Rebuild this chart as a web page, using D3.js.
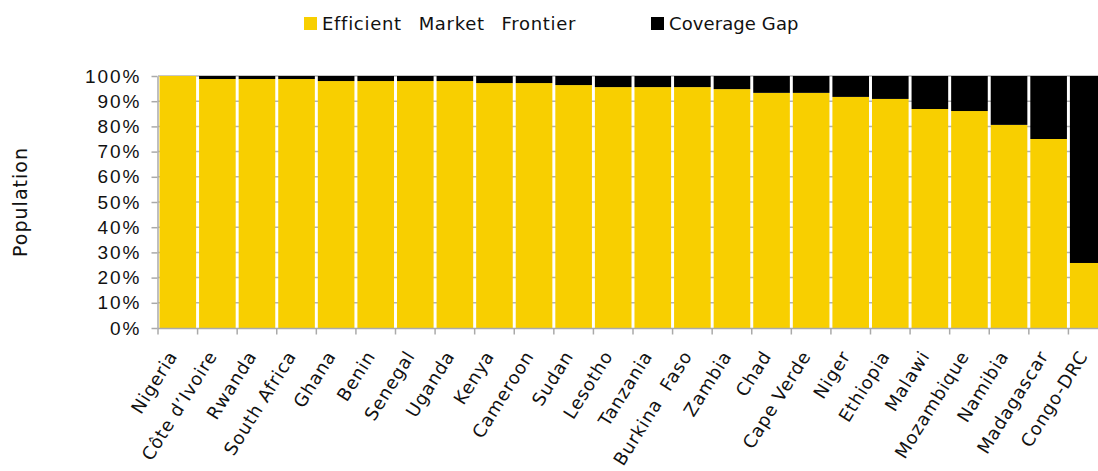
<!DOCTYPE html>
<html>
<head>
<meta charset="utf-8">
<script src="https://cdn.jsdelivr.net/npm/d3@7"></script>
<style>
  html, body { margin: 0; padding: 0; background: #fff; }
  svg { display: block; font-family: "DejaVu Sans", Verdana, sans-serif; }
</style>
</head>
<body>
<svg id="chart" width="1098" height="471"></svg>
<script>
// Countries, ordered by share of population reached by the efficient market frontier
const countries = ["Nigeria", "Côte d’Ivoire", "Rwanda", "South Africa", "Ghana", "Benin", "Senegal",
  "Uganda", "Kenya", "Cameroon", "Sudan", "Lesotho", "Tanzania", "Burkina  Faso", "Zambia", "Chad",
  "Cape Verde", "Niger", "Ethiopia", "Malawi", "Mozambique", "Namibia", "Madagascar", "Congo-DRC"];

// Share of population (%) within the efficient market frontier
const frontier = [100, 98.8, 98.8, 98.8, 98, 98, 98, 98, 97.2, 97.2, 96.4, 95.6, 95.6, 95.6, 94.8,
  93.3, 93.3, 91.7, 90.9, 86.9, 86.1, 80.6, 75, 25.8];

// Remaining share is the coverage gap
const gap = frontier.map(v => 100 - v);

const seriesNames = ["Efficient  Market  Frontier", "Coverage Gap"];
const seriesColors = ["#F8CF00", "#000000"];
const yTicks = [0, 10, 20, 30, 40, 50, 60, 70, 80, 90, 100];

const svg = d3.select("#chart");
const margin = { left: 158, top: 76, bottom: 143 };
const plotRight = 1108;
const plotBottom = 471 - margin.bottom;

const x = d3.scaleBand().domain(countries).range([margin.left, plotRight]).paddingInner(0.075).paddingOuter(0.0375);
const y = d3.scaleLinear().domain([0, 100]).range([plotBottom, margin.top]);

// Horizontal gridlines
svg.append("g")
  .selectAll("line")
  .data(yTicks.filter(t => t > 0))
  .join("line")
  .attr("x1", margin.left).attr("x2", plotRight)
  .attr("y1", d => y(d)).attr("y2", d => y(d))
  .attr("stroke", "#b4b4b4").attr("stroke-width", 1.5);

// Stacked bars
const rows = countries.map((c, i) => ({ country: c, frontier: frontier[i], gap: gap[i] }));
const stack = d3.stack().keys(["frontier", "gap"])(rows);

svg.append("g")
  .selectAll("g")
  .data(stack)
  .join("g")
  .attr("fill", (d, i) => seriesColors[i])
  .selectAll("rect")
  .data(d => d)
  .join("rect")
  .attr("x", d => x(d.data.country))
  .attr("width", x.bandwidth())
  .attr("y", d => y(d[1]))
  .attr("height", d => y(d[0]) - y(d[1]));

// Y axis
const yAxis = svg.append("g")
  .attr("transform", `translate(${margin.left - 0.5},0)`)
  .call(d3.axisLeft(y).tickValues(yTicks).tickFormat(d => d + "%").tickSize(6).tickSizeOuter(0));
yAxis.select(".domain").attr("stroke", "#aaaaaa").attr("stroke-width", 1.5);
yAxis.selectAll(".tick line").attr("stroke", "#aaaaaa").attr("stroke-width", 1.5);
yAxis.selectAll(".tick text")
  .attr("x", -16)
  .attr("fill", "#111")
  .style("font-size", "19px")
  .style("letter-spacing", "2px");

// X axis with band-boundary ticks
const xAxisG = svg.append("g").attr("transform", `translate(0,${plotBottom + 0.5})`);
xAxisG.append("line")
  .attr("x1", margin.left - 0.5).attr("x2", plotRight)
  .attr("stroke", "#aaaaaa").attr("stroke-width", 1.5);
const step = x.step();
xAxisG.selectAll("line.tick")
  .data(countries)
  .join("line")
  .attr("class", "tick")
  .attr("x1", d => x(d) - step * x.paddingInner() / 2)
  .attr("x2", d => x(d) - step * x.paddingInner() / 2)
  .attr("y1", 0).attr("y2", 6)
  .attr("stroke", "#aaaaaa").attr("stroke-width", 1.5);
xAxisG.selectAll("text")
  .data(countries)
  .join("text")
  .attr("transform", d => `translate(${x(d) + x.bandwidth() / 2 - 5},${24}) rotate(-58)`)
  .attr("text-anchor", "end")
  .attr("dy", "0.35em")
  .attr("fill", "#111")
  .style("font-size", "18px")
  .style("letter-spacing", "0.8px")
  .style("white-space", "pre")
  .text(d => d);

// Y axis title
svg.append("text")
  .attr("transform", `translate(27,${(margin.top + plotBottom) / 2}) rotate(-90)`)
  .attr("text-anchor", "middle")
  .attr("fill", "#111")
  .style("font-size", "19px")
  .style("letter-spacing", "1px")
  .text("Population");

// Legend
const legendItems = [
  { name: seriesNames[0], color: seriesColors[0], x: 304, ls: 0.7, ws: 2 },
  { name: seriesNames[1], color: seriesColors[1], x: 651, ls: 0.1, ws: 0 }
];
const lg = svg.append("g").selectAll("g").data(legendItems).join("g")
  .attr("transform", d => `translate(${d.x},17)`);
lg.append("rect").attr("width", 13).attr("height", 13).attr("fill", d => d.color);
lg.append("text")
  .attr("x", 18).attr("y", 13)
  .attr("fill", "#111")
  .style("font-size", "18px")
  .style("letter-spacing", d => d.ls + "px")
  .style("word-spacing", d => d.ws + "px")
  .style("white-space", "pre")
  .text(d => d.name);
</script>
</body>
</html>
